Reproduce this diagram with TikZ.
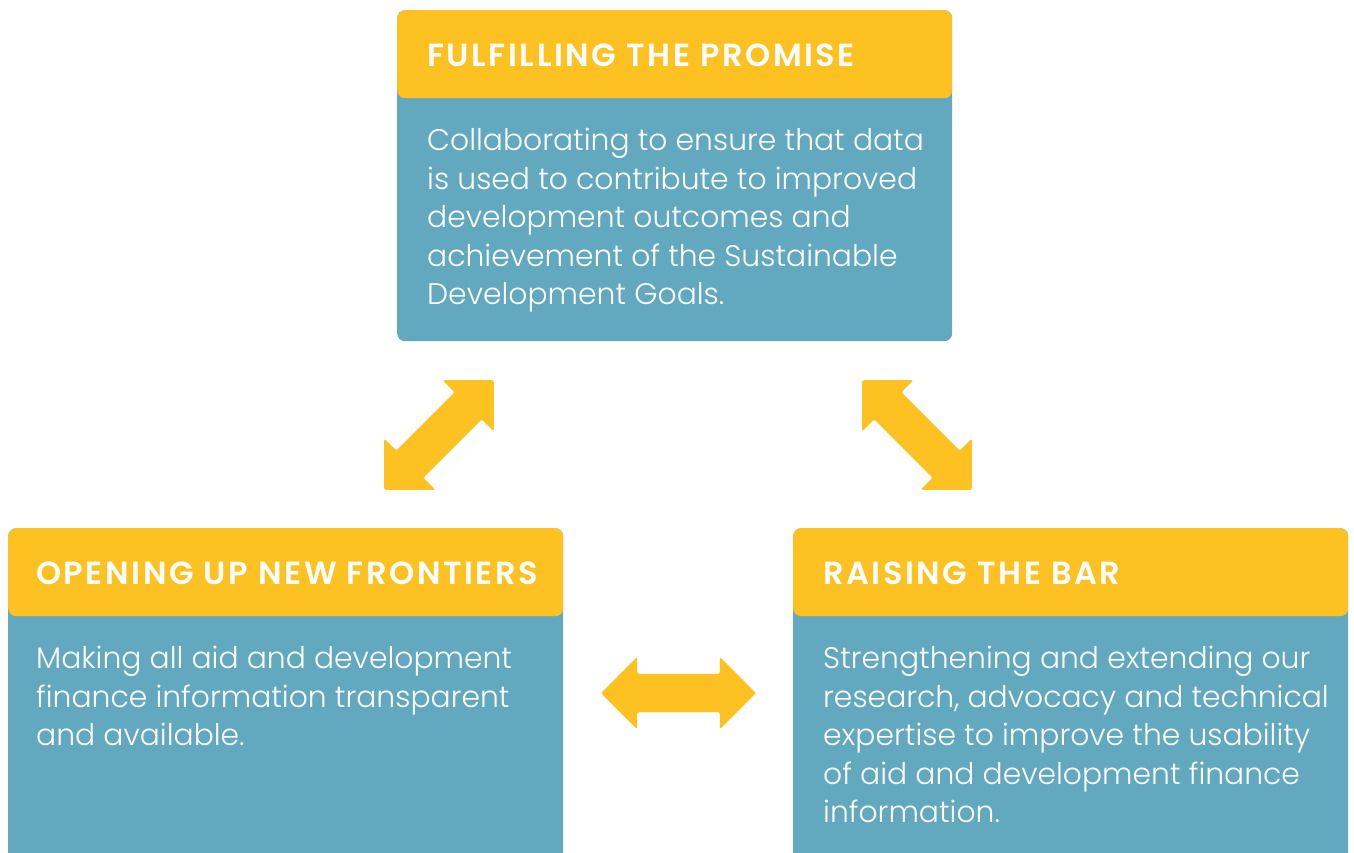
\documentclass[tikz,border=0pt]{standalone}
\usepackage{fontspec}
\setmainfont{Poppins}
\newfontfamily\headfont{Poppins}[UprightFont={* SemiBold}, LetterSpace=8]
\newfontfamily\blurbfont{Poppins}[UprightFont={* Light}]
\usetikzlibrary{shapes.arrows,positioning}
\definecolor{headyellow}{HTML}{FDC221}
\definecolor{bodyblue}{HTML}{62A9C0}

\begin{document}
\begin{tikzpicture}[x=1pt, y=-1pt,
    panel/.style={rectangle, fill=bodyblue, rounded corners=8pt, anchor=north west,
                  minimum width=555pt, inner sep=0pt,
                  path picture={\fill[headyellow] (path picture bounding box.north west)
                      rectangle ([yshift=-88pt]path picture bounding box.north east);}},
    headtext/.style={anchor=base west, inner sep=0pt, text=white,
                     font=\headfont\fontsize{32}{36}\selectfont},
    blurb/.style={anchor=north west, inner sep=0pt, text=white, align=left,
                  font=\blurbfont\fontsize{29.8}{38.5}\selectfont},
    swaparrow/.style={double arrow, fill=headyellow, double arrow tip angle=90,
                      double arrow head extend=17pt, minimum width=72pt,
                      minimum height=155pt, inner xsep=0pt, inner ysep=19pt,
                      rounded corners=2pt}
]
    \useasboundingbox (0,0) rectangle (1354,852);
    \clip (0,0) rectangle (1354,852);

    % Panels
    \node[panel, minimum height=331pt] (promise) at (397,10) {};
    \node[panel, minimum height=344pt] (frontiers) at (8,528) {};
    \node[panel, minimum height=344pt] (bar) at (793,528) {};

    % Titles
    \node[headtext] (promiseTitle) at (427,66) {FULFILLING THE PROMISE};
    \node[headtext] (frontiersTitle) at (36,584) {OPENING UP NEW FRONTIERS};
    \node[headtext] (barTitle) at (823,584) {RAISING THE BAR};

    % Texts
    \node[blurb] (promiseText) at (427,128) {Collaborating to ensure that data\\
        is used to contribute to improved\\development outcomes and\\
        achievement of the Sustainable\\Development Goals.};
    \node[blurb] (frontiersText) at (36,646) {Making all aid and development\\
        finance information transparent\\and available.};
    \node[blurb] (barText) at (823,646) {Strengthening and extending our\\
        research, advocacy and technical\\expertise to improve the usability\\
        of aid and development finance\\information.};

    % Arrows
    \node[swaparrow, rotate=45] (leftLink) at (439,435) {};
    \node[swaparrow, rotate=-45] (rightLink) at (917,435) {};
    \node[swaparrow] (bottomLink) at (678.5,693) {};
\end{tikzpicture}
\end{document}
